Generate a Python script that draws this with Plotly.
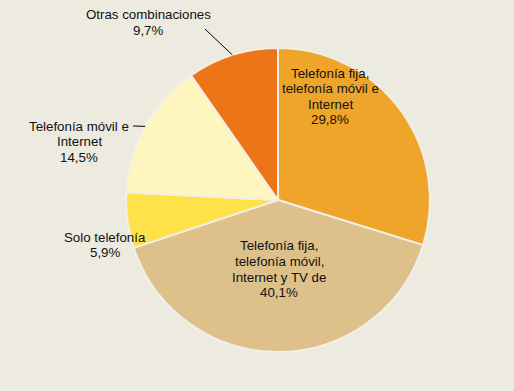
import math
import plotly.graph_objects as go

# Data
labels = [
    "Telefonía fija, telefonía móvil e Internet",
    "Telefonía fija, telefonía móvil, Internet y TV de",
    "Solo telefonía",
    "Telefonía móvil e Internet",
    "Otras combinaciones",
]
values = [29.8, 40.1, 5.9, 14.5, 9.7]
value_text = ["29,8%", "40,1%", "5,9%", "14,5%", "9,7%"]
label_lines = [
    ["Telefonía fija,", "telefonía móvil e", "Internet"],
    ["Telefonía fija,", "telefonía móvil,", "Internet y TV de"],
    ["Solo telefonía"],
    ["Telefonía móvil e", "Internet"],
    ["Otras combinaciones"],
]
colors = ["#EEA529", "#DEC08A", "#FFE24A", "#FFF5BE", "#ED7518"]

W, H = 514, 391
BG = "#EDEAE0"
cx, cy, r = 278, 200, 152

fig = go.Figure(go.Pie(
    labels=labels,
    values=values,
    sort=False,
    direction="clockwise",
    rotation=0,
    marker=dict(colors=colors, line=dict(color="#F2EFE8", width=2)),
    textinfo="none",
    hoverinfo="label+percent",
    domain=dict(x=[(cx - r) / W, (cx + r) / W], y=[1 - (cy + r) / H, 1 - (cy - r) / H]),
    showlegend=False,
))

# label layout (pixel positions of first text line centres)
label_pos = [(330, 73), (279, 246), (105, 237), (79, 126), (148, 15)]
line_gap = 15.5
FONT = dict(family="Arial, Liberation Sans, sans-serif", size=13.3, color="#111111")

annotations = []
for lines, val, (lx, ly) in zip(label_lines, value_text, label_pos):
    all_lines = lines + [val]
    for i, t in enumerate(all_lines):
        annotations.append(dict(
            x=lx / W, y=1 - (ly + i * line_gap) / H, xref="paper", yref="paper",
            text=t, showarrow=False, font=FONT, xanchor="center", yanchor="middle",
        ))

# leader lines to the mid-point of the outer slices
total = sum(values)
cum = 0
mids = []
for v in values:
    mids.append((cum + v / 2) / total * 2 * math.pi)
    cum += v

def edge(idx):
    a = mids[idx]
    return cx + r * math.sin(a), cy - r * math.cos(a)

shapes = []
leader_starts = {4: (205, 29), 3: (133, 126)}
for idx, (sx, sy) in leader_starts.items():
    ex, ey = edge(idx)
    shapes.append(dict(type="line", xref="paper", yref="paper",
                       x0=sx / W, y0=1 - sy / H, x1=ex / W, y1=1 - ey / H,
                       line=dict(color="#000000", width=1)))

fig.update_layout(
    width=W, height=H,
    margin=dict(l=0, r=0, t=0, b=0),
    paper_bgcolor=BG, plot_bgcolor=BG,
    annotations=annotations, shapes=shapes,
)

fig.write_html(
    "out.html",
    config={"displayModeBar": False},
    post_script="document.body.style.margin='0px';document.body.style.background='%s';" % BG,
)
